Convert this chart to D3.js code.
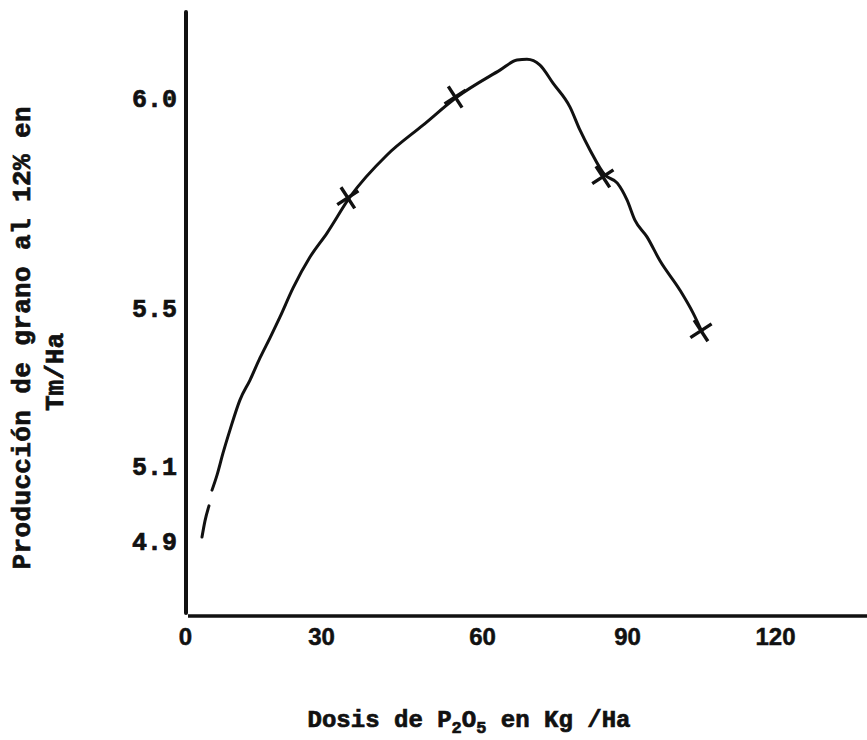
<!DOCTYPE html>
<html>
<head>
<meta charset="utf-8">
<script src="https://cdn.jsdelivr.net/npm/d3@7"></script>
<style>
  html, body { margin: 0; padding: 0; background: #fff; }
  svg { display: block; }
  .mono { font-family: "Liberation Mono", "Courier New", monospace; font-weight: bold; fill: #111; stroke: #111; stroke-width: 0.7px; }
  .sans { font-family: "Liberation Sans", Arial, sans-serif; font-weight: bold; fill: #111; stroke: #111; stroke-width: 0.5px; }
</style>
</head>
<body>
<script>
// ---- data ----
const xTicks = [0, 30, 60, 90, 120];
const yTicks = [4.9, 5.1, 5.5, 6.0];
// measured dose points (crosses)
const doses = [35, 55, 85, 105];
const yields = [5.76, 6.00, 5.81, 5.44];
// hand-drawn fitted curve, first short dash
const curveStartX = [3.75, 4.41, 5.29];
const curveStartY = [4.908, 4.951, 4.991];
// main curve
const curveX = [5.96, 7.06, 8.38, 9.93, 12.13, 14.34, 16.54, 18.75, 20.96, 23.82, 27.57, 31.12,
  35.40, 42.30, 49.01, 55.34, 63.72, 67.24, 69.31, 72.0, 74.69, 78.21, 80.28, 82.34, 85.45,
  88.0, 90.0, 91.6, 94.05, 96.69, 100.74, 103.38, 105.20];
const curveY = [5.033, 5.073, 5.130, 5.189, 5.265, 5.315, 5.371, 5.422, 5.475, 5.545, 5.619, 5.676,
  5.762, 5.862, 5.933, 6.000, 6.064, 6.088, 6.090, 6.076, 6.033, 5.976, 5.921, 5.874, 5.814,
  5.795, 5.755, 5.707, 5.667, 5.610, 5.540, 5.485, 5.437];

const W = 867, H = 740;
const svg = d3.select("body").append("svg").attr("width", W).attr("height", H);

// hand-drawn axes are not evenly spaced: piecewise-linear scales
const x = d3.scaleLinear().domain(xTicks).range([185, 321, 482, 627, 775]);
const y = d3.scaleLinear().domain(yTicks).range([540, 465, 307, 97]);

// axis lines
svg.append("line").attr("x1", 186).attr("x2", 186).attr("y1", 12).attr("y2", 613)
  .attr("stroke", "#111").attr("stroke-width", 4).attr("stroke-linecap", "round");
svg.append("line").attr("x1", 188).attr("x2", 867).attr("y1", 616).attr("y2", 616)
  .attr("stroke", "#111").attr("stroke-width", 3.5);

// y axis labels
const gy = svg.append("g").attr("transform", "translate(186,0)")
  .call(d3.axisLeft(y).tickValues(yTicks).tickSize(0).tickPadding(9).tickFormat(d3.format(".1f")));
gy.select(".domain").remove();
gy.selectAll("text").attr("class", "mono").style("font-size", "25px").attr("fill", "#111")
  .attr("dy", "0.36em");

// x axis labels
const gx = svg.append("g").attr("transform", "translate(0,616)")
  .call(d3.axisBottom(x).tickValues(xTicks).tickSize(0).tickPadding(12).tickFormat(d3.format("d")));
gx.select(".domain").remove();
gx.selectAll("text").attr("class", "sans").style("font-size", "24px").attr("fill", "#111");

// curve
const line = d3.line().x(d => x(d[0])).y(d => y(d[1])).curve(d3.curveMonotoneX);
const seg1 = curveStartX.map((v, i) => [v, curveStartY[i]]);
const seg2 = curveX.map((v, i) => [v, curveY[i]]);
[seg1, seg2].forEach(s => {
  svg.append("path").attr("d", line(s)).attr("fill", "none").attr("stroke", "#111")
    .attr("stroke-width", 3).attr("stroke-linecap", "round").attr("stroke-linejoin", "round");
});

// crosses
const sym = d3.symbol().type(d3.symbolX).size(210);
svg.selectAll("path.pt").data(doses).join("path").attr("class", "pt")
  .attr("d", sym)
  .attr("transform", (d, i) => `translate(${x(d)},${y(yields[i])}) rotate(12)`)
  .attr("fill", "none").attr("stroke", "#111").attr("stroke-width", 3.4);

// x title
const xt = svg.append("text").attr("class", "mono").attr("x", 469).attr("y", 727)
  .attr("text-anchor", "middle").style("font-size", "24px");
xt.append("tspan").text("Dosis de P");
xt.append("tspan").text("2").style("font-size", "17px").attr("dy", 6);
xt.append("tspan").text("O").attr("dy", -6);
xt.append("tspan").text("5").style("font-size", "17px").attr("dy", 6);
xt.append("tspan").text(" en Kg /Ha").attr("dy", -6);

// y title
svg.append("text").attr("class", "mono").attr("transform", "translate(21,338) rotate(-90)")
  .attr("text-anchor", "middle").attr("dy", "0.35em").style("font-size", "26px")
  .attr("textLength", 463).attr("lengthAdjust", "spacing")
  .text("Producción de grano al 12% en");
svg.append("text").attr("class", "mono").attr("transform", "translate(54,372) rotate(-90)")
  .attr("text-anchor", "middle").attr("dy", "0.35em").style("font-size", "26px")
  .text("Tm/Ha");
</script>
</body>
</html>
